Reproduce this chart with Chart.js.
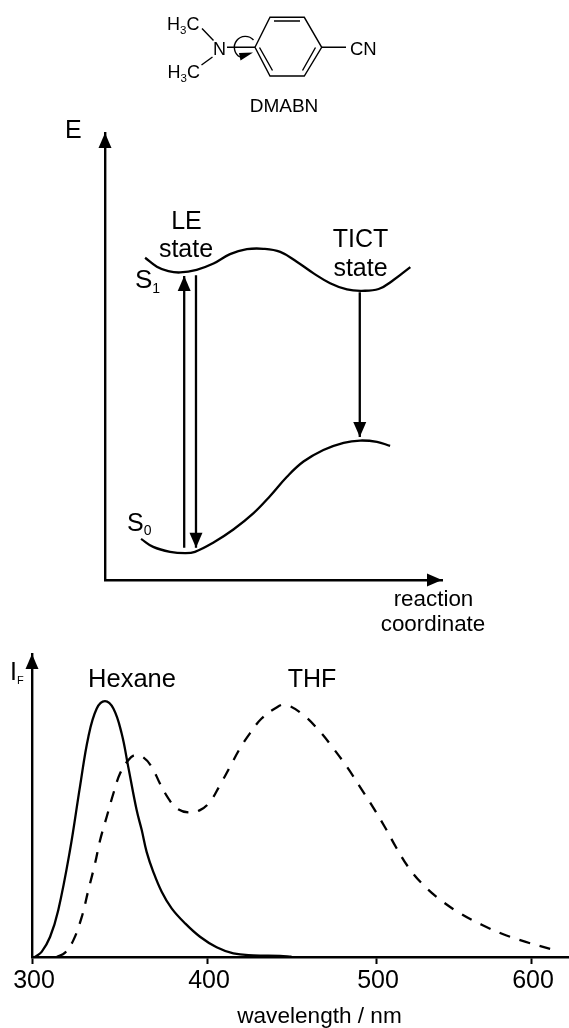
<!DOCTYPE html>
<html>
<head>
<meta charset="utf-8">
<script src="https://cdn.jsdelivr.net/npm/chart.js@4/dist/chart.umd.js"></script>
<style>
    html, body { margin: 0; padding: 0; background: #fff; }
    #page { position: relative; width: 569px; height: 1028px; overflow: hidden; }
    canvas, svg { position: absolute; left: 0; }
    #energyChart { top: 0; }
    #spectrumChart { top: 640px; }
    svg { top: 0; }
    text { font-family: "Liberation Sans", Arial, sans-serif; fill: #000; }
    .bond { stroke: #000; stroke-width: 1.4; fill: none; }
</style>
</head>
<body>
<div id="page">
    <canvas id="energyChart" width="569" height="640"></canvas>
    <canvas id="spectrumChart" width="569" height="388"></canvas>

    <svg width="569" height="1028">
        <!-- DMABN -->
        <polygon class="bond" points="255,47.3 270,17.3 304.3,17.3 321.7,47.3 304.3,76 270,76"/>
        <path class="bond" d="M274,21 H300 M259.5,47.5 L272.5,70.5 M315.5,47.5 L302.5,70.5"/>
        <path class="bond" d="M227,47.3 H255 M321.7,47.3 H346 M202,28.5 L213.5,40.5 M201.500,65 L212.500,57"/>
        <path class="bond" d="M253.5,40 A11,11 0 1 0 240,57"/>
        <polygon points="239,53 253,52.5 240.500,60.500"/>
        <text x="167" y="30" font-size="18">H<tspan font-size="11.5" dy="4">3</tspan><tspan dy="-4">C</tspan></text>
        <text x="167.500" y="78" font-size="18">H<tspan font-size="11.5" dy="4">3</tspan><tspan dy="-4">C</tspan></text>
        <text x="213" y="55" font-size="18">N</text>
        <text x="350" y="55" font-size="18.500">CN</text>
        <text x="284" y="112" font-size="19" text-anchor="middle">DMABN</text>

        <!-- energy diagram -->
        <text x="65" y="138" font-size="25">E</text>
        <text x="186.500" y="229" font-size="25" text-anchor="middle">LE</text>
        <text x="186" y="257" font-size="25" text-anchor="middle">state</text>
        <text x="360.500" y="247" font-size="25" text-anchor="middle">TICT</text>
        <text x="360.500" y="276" font-size="25" text-anchor="middle">state</text>
        <text x="135" y="288" font-size="26">S<tspan font-size="14" dy="5">1</tspan></text>
        <text x="127" y="531" font-size="25">S<tspan font-size="14" dy="4">0</tspan></text>
        <text x="433.500" y="606" font-size="22.400" text-anchor="middle">reaction</text>
        <text x="433" y="631" font-size="22.400" text-anchor="middle">coordinate</text>

        <!-- spectra -->
        <text x="10" y="680" font-size="25">I<tspan font-size="11" dy="4">F</tspan></text>
        <text x="132" y="687" font-size="25.500" text-anchor="middle">Hexane</text>
        <text x="312" y="687" font-size="25" text-anchor="middle">THF</text>
        <text x="319.500" y="1023" font-size="22.600" text-anchor="middle">wavelength / nm</text>
    </svg>
</div>

<script>
// energy diagram, arbitrary units
const s1Coord = [11.9, 15.4, 18.8, 22.3, 27.2, 32.2, 37.1, 42.1, 47, 52, 56.9, 61.9, 66.8, 71.8, 76.2, 81.2, 85.6, 90.6];
const s1Energy = [72.1, 70.1, 69.1, 68.8, 69.4, 70.8, 72.9, 74, 74.1, 73.4, 71.2, 68.6, 66.4, 65, 64.7, 65.1, 67.1, 70];
const s0Coord = [10.7, 14.3, 19.3, 23.8, 26.7, 32.2, 38.1, 44, 49, 54, 58.9, 64.8, 70.8, 75.7, 80.7, 84.6];
const s0Energy = [9.2, 7.4, 6.3, 6, 6.3, 8.4, 11.3, 14.9, 18.8, 23.1, 26.5, 29.1, 30.7, 31.2, 30.9, 30];
const absorptionArrow = [[23.5, 7.2], [23.5, 68]];
const emissionArrow = [[27, 68.2], [27, 7.2]];
const tictArrow = [[75.6, 64.4], [75.6, 32]];

// spectra
const hexaneNm = [301.7, 305.5, 310.3, 315, 321.7, 327.4, 332.2, 337, 341.7, 346.5, 351.2, 355, 359.8, 362.7, 365.5, 369.3, 374.1, 379.8, 387.4, 396, 405.7, 415.6, 427.4, 443.2, 450];
const hexaneI = [0, 2, 7.8, 18.3, 41.7, 66.5, 86, 97.1, 100, 97.1, 87.4, 74.3, 57.4, 49.6, 41.1, 33.3, 25.5, 19, 13.2, 7.9, 3.8, 1.4, 0.65, 0.4, 0.1];
const thfNm = [314.1, 318.9, 323.6, 328.4, 332.2, 336, 338.9, 342.7, 346.5, 350.3, 355, 358.9, 363.6, 368.4, 373.1, 377.9, 382.7, 389.3, 396, 401.8, 407.7, 413.6, 419.5, 425.4, 432.3, 440.2, 446.2, 456.4, 466.3, 474.9, 483, 490.7, 498.2, 505.8, 513.1, 521.1, 530.8, 542.2, 554.8, 568.2, 581.7, 596.1, 612.7];
const thfI = [0, 1.7, 6.5, 15.6, 26.1, 36.5, 45.6, 54.8, 63.9, 71.7, 76.9, 78.9, 78, 74.3, 67.8, 62, 58.1, 56.5, 57.4, 60.7, 67.2, 74.3, 81.5, 87.4, 93.2, 97.1, 98.6, 94.9, 88.5, 81.4, 74.1, 66.3, 58.6, 50.7, 42.7, 34.9, 28, 22, 16.9, 12.6, 9, 6, 3.1];
const nmTicks = [300, 400, 500, 600];
// the printed axis is not quite even, px per tick step
const nmStepWidths = [175, 169, 155];

function zipPoints(xs, ys) {
    return xs.map((x, i) => ({ x: x, y: ys[i] }));
}

function curve(xs, ys, extra) {
    return Object.assign({
        data: zipPoints(xs, ys),
        borderColor: '#000',
        borderWidth: 2.3,
        pointRadius: 0,
        tension: 0.4,
        clip: false
    }, extra);
}

function arrow(points) {
    return {
        data: points.map(p => ({ x: p[0], y: p[1] })),
        borderColor: '#000',
        borderWidth: 2.3,
        pointRadius: 0,
        arrow: true,
        clip: false
    };
}

function drawHead(ctx, x, y, dx, dy) {
    const len = 15, half = 6.5;
    ctx.beginPath();
    ctx.moveTo(x, y);
    ctx.lineTo(x - dx * len - dy * half, y - dy * len + dx * half);
    ctx.lineTo(x - dx * len + dy * half, y - dy * len - dx * half);
    ctx.closePath();
    ctx.fill();
}

const arrowHeads = {
    id: 'arrowHeads',
    afterDatasetsDraw(chart, args, opts) {
        const ctx = chart.ctx;
        const area = chart.chartArea;
        ctx.save();
        ctx.fillStyle = '#000';
        chart.data.datasets.forEach((ds, i) => {
            if (!ds.arrow) return;
            const pts = chart.getDatasetMeta(i).data;
            const dir = pts[1].y < pts[0].y ? -1 : 1;
            drawHead(ctx, pts[1].x, pts[1].y, 0, dir);
        });
        if (opts.yAxis) drawHead(ctx, area.left, area.top, 0, -1);
        if (opts.xAxis) drawHead(ctx, area.right, area.bottom, 1, 0);
        ctx.restore();
    }
};

// linear scale with uneven spacing between the printed ticks
class StretchedScale extends Chart.LinearScale {
    static id = 'stretched';
    static defaults = Chart.LinearScale.defaults;

    getPixelForValue(value) {
        let px = this.left;
        for (let i = 0; i < nmStepWidths.length; i++) {
            const from = nmTicks[i], to = nmTicks[i + 1];
            if (value <= to || i === nmStepWidths.length - 1) {
                return px + (value - from) / (to - from) * nmStepWidths[i];
            }
            px += nmStepWidths[i];
        }
        return px;
    }
}
Chart.register(StretchedScale);

const axisLine = { display: true, color: '#000', width: 2.4 };

new Chart(document.getElementById('energyChart'), {
    type: 'line',
    data: {
        datasets: [
            curve(s1Coord, s1Energy),
            curve(s0Coord, s0Energy),
            arrow(absorptionArrow),
            arrow(emissionArrow),
            arrow(tictArrow)
        ]
    },
    options: {
        responsive: false,
        animation: false,
        events: [],
        layout: { padding: { left: 105, right: 127, top: 133, bottom: 60 } },
        plugins: {
            legend: { display: false },
            tooltip: { enabled: false },
            arrowHeads: { xAxis: true, yAxis: true }
        },
        scales: {
            x: {
                type: 'linear', min: 0, max: 100,
                afterFit: s => { s.height = 0; },
                grid: { display: false }, border: axisLine, ticks: { display: false }
            },
            y: {
                type: 'linear', min: 0, max: 100,
                afterFit: s => { s.width = 0; },
                grid: { display: false }, border: axisLine, ticks: { display: false }
            }
        }
    },
    plugins: [arrowHeads]
});

new Chart(document.getElementById('spectrumChart'), {
    type: 'line',
    data: {
        datasets: [
            curve(hexaneNm, hexaneI),
            curve(thfNm, thfI, { borderDash: [11, 10] })
        ]
    },
    options: {
        responsive: false,
        animation: false,
        events: [],
        layout: { padding: { left: 32, right: 0, top: 14, bottom: 0 } },
        plugins: {
            legend: { display: false },
            tooltip: { enabled: false },
            arrowHeads: { yAxis: true }
        },
        scales: {
            x: {
                type: 'stretched', min: 300, max: 624.5,
                afterFit: s => { s.height = 71; },
                afterBuildTicks: s => { s.ticks = nmTicks.map(v => ({ value: v })); },
                border: axisLine,
                grid: { drawOnChartArea: false, tickLength: 7, tickWidth: 2, tickColor: '#000' },
                ticks: {
                    autoSkip: false, maxRotation: 0, color: '#000', padding: 2, labelOffset: 2,
                    font: { family: '"Liberation Sans", Arial, sans-serif', size: 25 }
                }
            },
            y: {
                type: 'linear', min: 0, max: 118.4,
                afterFit: s => { s.width = 0; },
                grid: { display: false }, border: axisLine, ticks: { display: false }
            }
        }
    },
    plugins: [arrowHeads]
});
</script>
</body>
</html>
